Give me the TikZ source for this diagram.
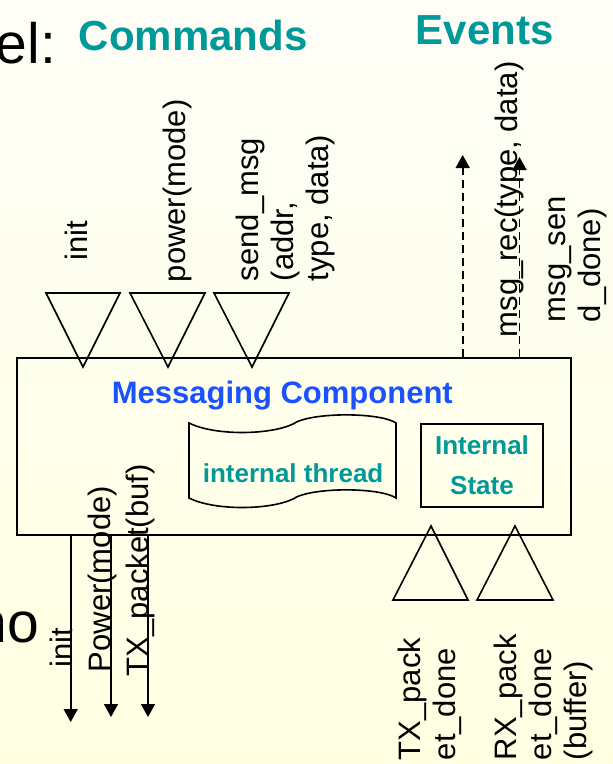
\documentclass[tikz,border=0pt]{standalone}
\usepackage{fontspec}
\setmainfont{Liberation Sans}
\usepackage{tikz}
\usetikzlibrary{arrows.meta}
\definecolor{slideteal}{RGB}{0,153,153}
\definecolor{slideblue}{RGB}{26,82,255}
\definecolor{slidetop}{RGB}{254,254,247}
\definecolor{slidebottom}{RGB}{255,255,226}
\newcommand{\headcolor}{slideteal}
\newcommand{\sigfont}{\fontsize{31}{35}\selectfont}
\newcommand{\innerfont}{\bfseries\fontsize{26}{40}\selectfont}
\tikzset{signal/.style={rotate=90, anchor=base west, inner sep=0pt, align=left, font=\sigfont}}

\begin{document}
\begin{tikzpicture}[x=1pt, y=-1pt, line width=1.6pt, >={Triangle[length=13pt,width=14pt]}]
	\shade[top color=slidetop, bottom color=slidebottom] (0,0) rectangle (613,764);
	\useasboundingbox (0,0) rectangle (613,764);

	\node at (-5,63) [anchor=base west, inner sep=0pt, font=\fontsize{57}{60}\selectfont] (el) {el:};
	\node at (-25,642) [anchor=base west, inner sep=0pt, font=\fontsize{57}{60}\selectfont] (no) {no};
	\node at (78,50) [anchor=base west, inner sep=0pt, color=\headcolor,
		font=\bfseries\fontsize{42}{46}\selectfont] (cmds) {Commands};
	\node at (415,44) [anchor=base west, inner sep=0pt, color=\headcolor,
		font=\bfseries\fontsize{42}{46}\selectfont] (evts) {Events};

	\node[draw, minimum width=554pt, minimum height=177pt, inner sep=0pt] (comp) at (294,446.5) {};

	\draw (46,293) -- (120,293) -- (83,367) -- cycle;
	\draw (130,293) -- (205,293) -- (168,367) -- cycle;
	\draw (214,293) -- (289,293) -- (252,367) -- cycle;
	\draw (393,600) -- (468,600) -- (431,526) -- cycle;
	\draw (477,600) -- (553,600) -- (515,526) -- cycle;

	\node[signal] at (87,261) (initin) {init};
	\node[signal] at (185,283) (powerin) {power(mode)};
	\node[signal] at (328,282) (sendin) {send\_msg\\(addr,\\type, data)};
	\node[signal] at (517,338) (recout) {msg\_rec(type, data)};
	\node[signal] at (600,323) (sentout) {msg\_sen\\d\_done)};

	\node[signal] at (72,668) (initout) {init};
	\node[signal] at (110,673) (powerout) {Power(mode)};
	\node[signal] at (148,677) (txout) {TX\_packet(buf)};
	\node[signal] at (455,761) (txdone) {TX\_pack\\et\_done};
	\node[signal] at (586,761) (rxdone) {RX\_pack\\et\_done\\(buffer)};

	\coordinate (recend) at (462.7,155);
	\coordinate (sentend) at (519.5,157);
	\draw[->, dash pattern=on 8pt off 5pt] (comp.north -| recend) -- (recend);
	\draw[->, dash pattern=on 8pt off 5pt] (comp.north -| sentend) -- (sentend);

	\coordinate (initend) at (70.7,722);
	\coordinate (powerend) at (111,717);
	\coordinate (txend) at (148,717);
	\draw[->] (comp.south -| initend) -- (initend);
	\draw[->] (comp.south -| powerend) -- (powerend);
	\draw[->] (comp.south -| txend) -- (txend);

	\node at (111,403) [anchor=base west, inner sep=0pt, color=slideblue,
		font=\bfseries\fontsize{31}{35}\selectfont] (title) {Messaging Component};

	\draw (189,423) .. controls (215,436) and (270,435) .. (293,424)
		.. controls (310,412) and (380,412) .. (396,423) -- (396,498)
		.. controls (380,487) and (310,487) .. (293,499)
		.. controls (270,510) and (215,511) .. (189,498) -- cycle;
	\node at (202,482) [anchor=base west, inner sep=0pt, color=\headcolor, font=\innerfont]
		(thread) {internal thread};

	\node[draw, minimum width=122pt, minimum height=83pt, inner sep=0pt, align=center,
		color=black, text=\headcolor, font=\innerfont] at (482,465.5) (state) {Internal\\State};
\end{tikzpicture}
\end{document}
